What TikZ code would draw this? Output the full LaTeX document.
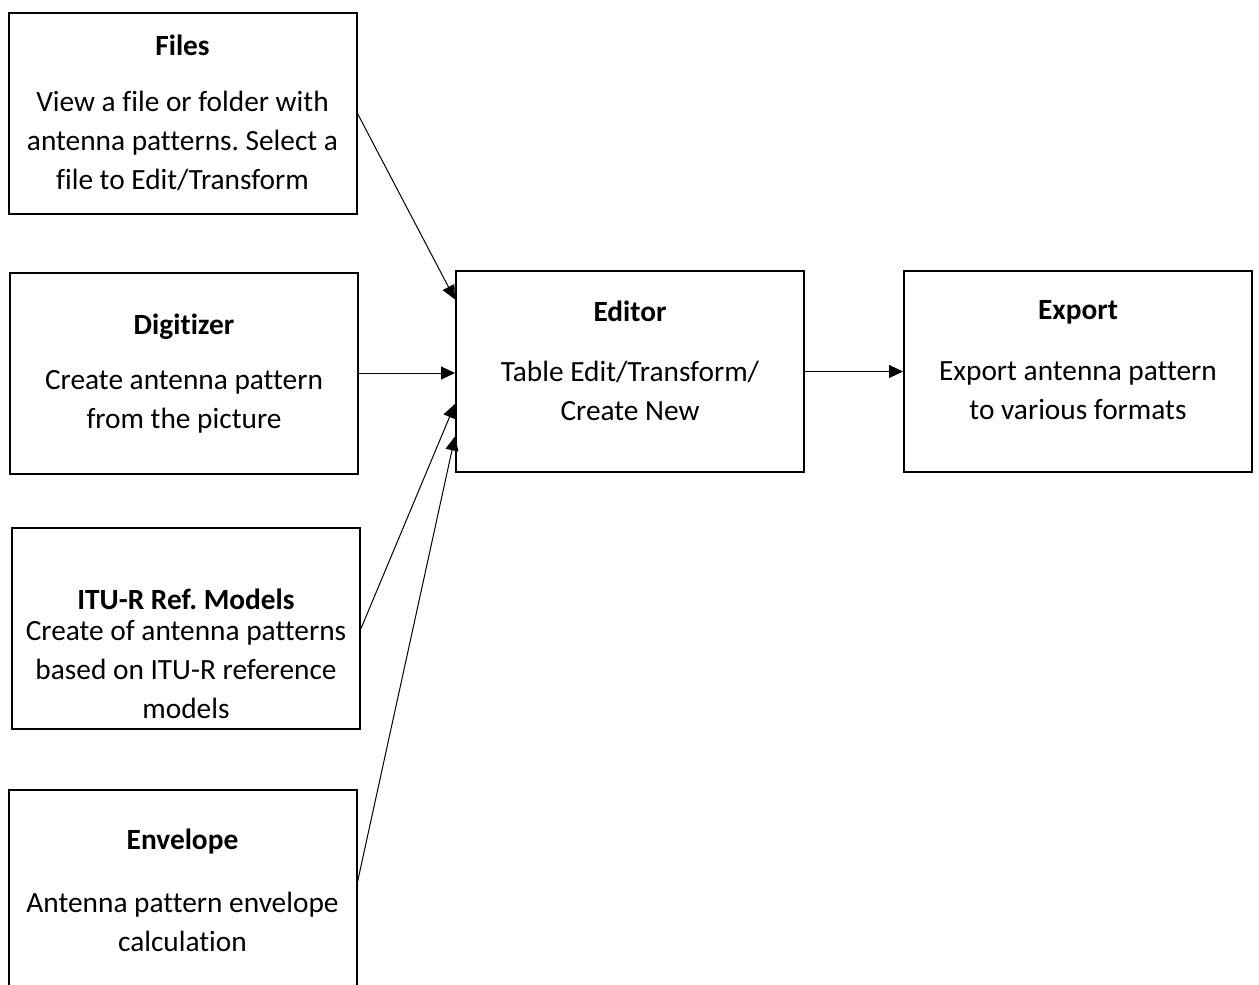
\documentclass[tikz,border=0pt]{standalone}
\usepackage{fontspec}
\setmainfont{Carlito}[Ligatures=NoCommon]
\frenchspacing
\usetikzlibrary{arrows.meta,calc}
\begin{document}
\begin{tikzpicture}[x=0.5pt,y=-0.5pt,
  box/.style={draw,line width=1pt,minimum width=174pt,minimum height=100.5pt,inner sep=0pt},
  title/.style={font=\fontsize{14.67}{19.5}\selectfont\bfseries},
  body/.style={font=\fontsize{14.67}{19.5}\selectfont,align=center},
  conn/.style={line width=0.5pt,-{Triangle[length=7pt,width=6.5pt]}}]
\useasboundingbox (0,0) rectangle (1259,985);
\clip (0,0) rectangle (1259,985);

\node[box] (files) at (182.5,113.5) {};
\node[box] (digit) at (184,373) {};
\node[box] (itu) at (186,628.5) {};
\node[box,minimum height=120pt] (env) at (182.5,910) {};
\node[box] (editor) at (630,371.5) {};
\node[box] (export) at (1078,371.5) {};

\node[title] (filest) at (182.5,45) {Files};
\node[body] (filesb) at (182.5,141) {View a file or folder with\\antenna patterns. Select a\\file to Edit/Transform};
\node[title] (digitt) at (184,327) {Digitizer};
\node[body] (digitb) at (184,402) {Create antenna pattern\\from the picture};
\node[title] (itut) at (186,599) {ITU-R Ref. Models};
\node[body] (itub) at (186,670) {Create of antenna patterns\\based on ITU-R reference\\models};
\node[title] (envt) at (182.5,842) {Envelope};
\node[body] (envb) at (182.5,921.5) {Antenna pattern envelope\\calculation};
\node[title] (editort) at (630,311) {Editor};
\node[body] (editorb) at (630,390.5) {Table Edit/Transform/\\Create New};
\node[title] (exportt) at (1078,312) {Export};
\node[body] (exportb) at (1078,391) {Export antenna pattern\\to various formats};

\coordinate (edin1) at ($(editor.north west)!0.145!(editor.south west)$);
\coordinate (edin3) at ($(editor.north west)!0.66!(editor.south west)$);
\coordinate (edin4) at ($(editor.north west)!0.82!(editor.south west)$);
\coordinate (envout) at ($(env.north east)+(0,93)$);

\path[draw,conn] (files.east) -- (edin1);
\path[draw,conn] (digit.east) -- (digit.east -| editor.west);
\path[draw,conn] (itu.east) -- (edin3);
\path[draw,conn] (envout) -- (edin4);
\path[draw,conn] (editor.east) -- (export.west);
\end{tikzpicture}
\end{document}
